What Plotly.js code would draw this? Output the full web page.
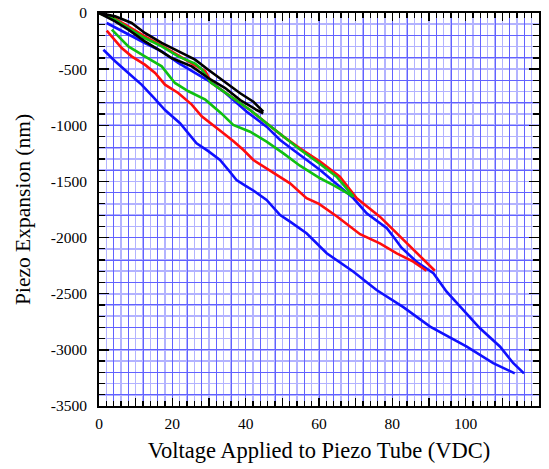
<!DOCTYPE html>
<html>
<head>
<meta charset="utf-8">
<script src="https://cdn.plot.ly/plotly-3.0.1.min.js"></script>
<style>
  html, body { margin: 0; padding: 0; background: #ffffff; }
  #chart { width: 549px; height: 469px; }
</style>
</head>
<body>
<div id="chart"></div>
<script>
// Piezo tube expansion against applied voltage, sweeps to four maximum voltages.

// 45 V sweep (black)
const blackOuterV  = [0, 4.4, 8.9, 12.5, 17.1, 21.6, 26.2, 29.8, 33.5, 38.5, 42.1, 44.8];
const blackOuterNm = [0, -30, -89, -178, -267, -341, -416, -505, -597, -715, -790, -879];
const blackInnerV  = [0, 4.4, 8.0, 12.5, 16.2, 19.8, 25.3, 29.8, 34.4, 38.5, 43.0, 44.8];
const blackInnerNm = [0, -74, -148, -252, -327, -401, -475, -579, -668, -775, -864, -893];

// 69 V sweep (green)
const greenUpV    = [0, 4.4, 8.0, 12.5, 17.1, 21.6, 26.2, 28.0, 30.5, 35.0, 41.2, 45.7, 50.3, 54.8, 60.3, 64.8, 69.4];
const greenUpNm   = [0, -59, -134, -223, -297, -386, -450, -500, -620, -720, -864, -982, -1101, -1215, -1345, -1458, -1636];
const greenDownV  = [3.5, 8.0, 12.5, 17.1, 20.7, 24.4, 29.0, 33.3, 36.6, 41.2, 45.7, 50.3, 54.8, 60.3, 63.9, 69.4];
const greenDownNm = [-148, -297, -386, -475, -623, -697, -772, -892, -997, -1057, -1146, -1250, -1360, -1472, -1532, -1636];

// 92 V sweep (red)
const redUpV    = [0, 4.4, 8.0, 12.5, 17.1, 21.6, 26.2, 29.0, 30.7, 35.0, 41.2, 45.7, 50.3, 54.8, 60.3, 65.7, 70.3, 76.6, 81.2, 85.7, 91.6];
const redUpNm   = [0, -50, -120, -208, -290, -375, -460, -519, -623, -720, -864, -982, -1101, -1205, -1324, -1458, -1650, -1814, -1962, -2110, -2295];
const redDownV  = [2.1, 6.2, 8.9, 12.5, 15.3, 18.0, 21.6, 25.3, 28.0, 31.0, 33.5, 36.6, 39.4, 42.1, 46.6, 52.1, 56.6, 60.0, 65.0, 71.2, 76.6, 81.2, 85.7, 89.3];
const redDownNm = [-157, -312, -386, -460, -534, -638, -712, -816, -920, -1000, -1060, -1140, -1220, -1309, -1400, -1517, -1650, -1700, -1814, -1970, -2051, -2140, -2215, -2295];

// 116 V sweep (blue)
const blueUpV    = [2.1, 8.0, 12.5, 17.1, 21.6, 26.2, 30.7, 34.4, 40.3, 45.7, 49.4, 53.0, 57.5, 60.3, 65.7, 69.4, 73.0, 78.5, 80.3, 82.5, 86.6, 91.2, 94.8, 99.4, 103.9, 109.4, 113.0, 115.9];
const blueUpNm   = [-89, -193, -267, -341, -445, -534, -620, -710, -879, -1012, -1131, -1220, -1330, -1398, -1547, -1650, -1784, -1917, -1992, -2090, -2215, -2318, -2482, -2645, -2808, -2972, -3119, -3209];
const blueDownV  = [1.2, 4.4, 8.0, 11.6, 14.8, 18.0, 22.1, 24.4, 26.6, 29.8, 33.0, 35.3, 37.5, 40.0, 42.3, 45.7, 49.4, 52.1, 56.6, 62.1, 69.4, 75.7, 83.0, 90.3, 100.3, 107.5, 113.4];
const blueDownNm = [-327, -430, -534, -638, -750, -864, -982, -1071, -1160, -1230, -1309, -1398, -1487, -1540, -1585, -1665, -1799, -1858, -1962, -2140, -2304, -2467, -2620, -2793, -2972, -3119, -3209];

// Axis ticks
const xTickVals = [0, 10, 20, 30, 40, 50, 60, 70, 80, 90, 100, 110, 120];
const xTickText = ['0', '', '20', '', '40', '', '60', '', '80', '', '100', '', '120'];
const yTickVals = [0, -500, -1000, -1500, -2000, -2500, -3000, -3500];
const yTickText = ['0', '-500', '-1000', '-1500', '-2000', '-2500', '-3000', '-3500'];

const BLUE = '#1010ff', RED = '#ff0d0d', GREEN = '#10c010', BLACK = '#000000';
const LW = 2.6;

function sweep(x, y, color) {
  return { x: x, y: y, type: 'scatter', mode: 'lines',
           line: { color: color, width: LW }, hoverinfo: 'skip', showlegend: false };
}

const traces = [
  sweep(blueUpV, blueUpNm, BLUE),
  sweep(blueDownV, blueDownNm, BLUE),
  sweep(redUpV, redUpNm, RED),
  sweep(redDownV, redDownNm, RED),
  sweep(greenUpV, greenUpNm, GREEN),
  sweep(greenDownV, greenDownNm, GREEN),
  sweep(blackOuterV, blackOuterNm, BLACK),
  sweep(blackInnerV, blackInnerNm, BLACK)
];

const FONT = '"Liberation Serif", "DejaVu Serif", serif';
const LIGHT_GRID = '#b3b3ff';
const DARK_GRID = '#6262ff';

const layout = {
  width: 549, height: 469,
  margin: { l: 99, r: 10, t: 13, b: 63 },
  paper_bgcolor: '#ffffff', plot_bgcolor: '#ffffff',
  font: { family: FONT, size: 15.5, color: '#000000' },
  showlegend: false,
  xaxis: {
    range: [0, 120], tickmode: 'array', tickvals: xTickVals, ticktext: xTickText,
    ticks: 'inside', ticklen: 8, tickwidth: 1.5, tickcolor: '#000',
    showline: true, linecolor: '#000', linewidth: 2, mirror: 'ticks',
    showgrid: true, gridcolor: LIGHT_GRID, gridwidth: 1.6, zeroline: false,
    minor: { dtick: 2, tick0: 0, ticks: 'inside', ticklen: 5, tickwidth: 1.2, tickcolor: '#000',
             showgrid: true, gridcolor: LIGHT_GRID, gridwidth: 1.6 },
    ticklabelstandoff: 2,
    title: { text: 'Voltage Applied to Piezo Tube (VDC)', font: { size: 22.5 }, standoff: 12 }
  },
  yaxis: {
    range: [-3500, 0], tickmode: 'array', tickvals: yTickVals, ticktext: yTickText,
    ticks: 'inside', ticklen: 10, tickwidth: 1.5, tickcolor: '#000',
    showline: true, linecolor: '#000', linewidth: 2, mirror: 'ticks',
    showgrid: true, gridcolor: LIGHT_GRID, gridwidth: 1.6, zeroline: false,
    minor: { dtick: 100, tick0: 0, ticks: 'inside', ticklen: 6, tickwidth: 1.2, tickcolor: '#000',
             showgrid: true, gridcolor: LIGHT_GRID, gridwidth: 1.6 },
    ticklabelstandoff: 7,
    title: { text: 'Piezo Expansion (nm)', font: { size: 21.5 }, standoff: 14 }
  },
  // second, darker grid laid over the first
  xaxis2: { overlaying: 'x', anchor: 'y2', range: [0, 120], dtick: 4, tick0: 0,
            showgrid: true, gridcolor: DARK_GRID, gridwidth: 1, showticklabels: false,
            ticks: '', showline: false, zeroline: false },
  yaxis2: { overlaying: 'y', anchor: 'x2', range: [-3500, 0], dtick: 200, tick0: 0,
            showgrid: true, gridcolor: DARK_GRID, gridwidth: 1, showticklabels: false,
            ticks: '', showline: false, zeroline: false }
};

// an empty trace keeps the overlay subplot alive
traces.unshift({ x: [], y: [], xaxis: 'x2', yaxis: 'y2', type: 'scatter', mode: 'lines',
                 hoverinfo: 'skip', showlegend: false });

function draw() {
  return Plotly.newPlot('chart', traces, layout, { staticPlot: true, displayModeBar: false });
}

// make sure the serif face is ready before text is measured
if (document.fonts && document.fonts.load) {
  document.fonts.load('16px "Liberation Serif"').then(draw, draw);
} else {
  draw();
}
</script>
</body>
</html>
